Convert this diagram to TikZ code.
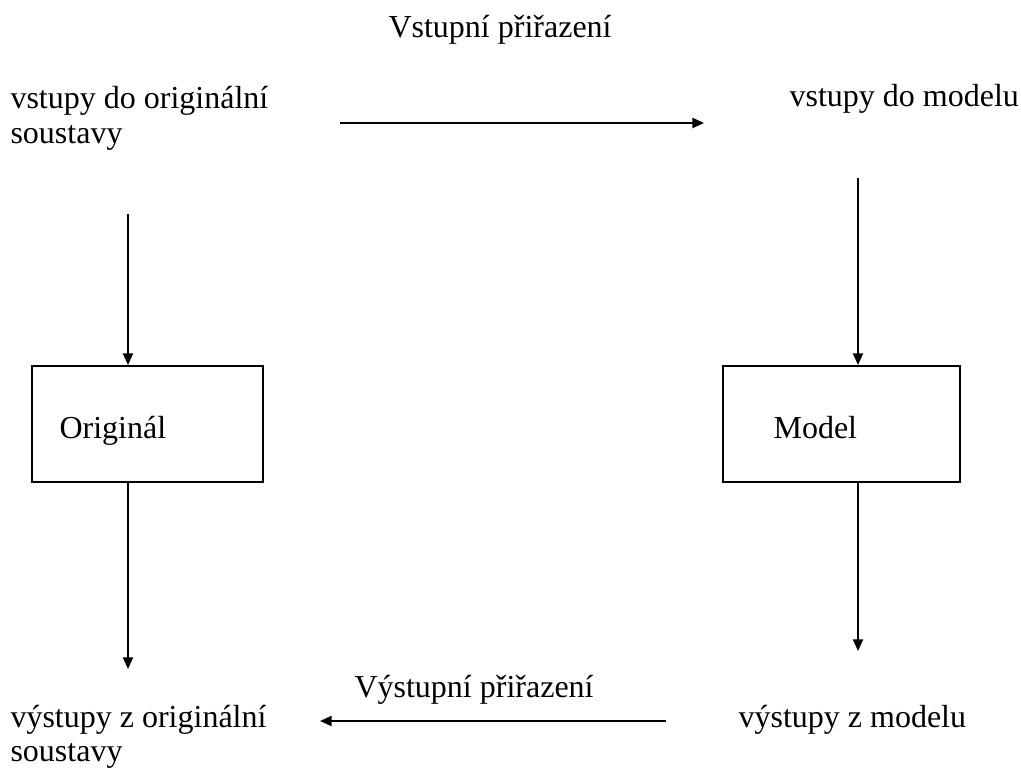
\documentclass[tikz,border=0pt]{standalone}
\usepackage{fontspec}
\setmainfont{Liberation Serif}
\usetikzlibrary{arrows.meta}
\begin{document}
\begin{tikzpicture}[x=0.375pt,y=-0.375pt,
  lbl/.style={inner sep=0pt,anchor=base west,font=\fontsize{12}{12.9}\selectfont},
  blk/.style={draw,line width=0.75pt,inner sep=0pt},
  conn/.style={line width=0.75pt,-{Triangle[length=4.4pt,width=3.8pt]}}]
\useasboundingbox (0,0) rectangle (1021,773);
\node[lbl] (t1) at (388,38) {Vstupní přiřazení};
\node[lbl] (inO) at (10,109) {\begin{tabular}[t]{@{}l@{}}vstupy do originální\\soustavy\end{tabular}};
\node[lbl] (inM) at (789,107) {vstupy do modelu};
\node[blk,minimum width=231*0.375pt,minimum height=116*0.375pt] (orig) at (147.5,424) {};
\node[lbl] (origT) at (59,438) {Originál};
\node[blk,minimum width=237*0.375pt,minimum height=116*0.375pt] (model) at (841.5,424) {};
\node[lbl] (modelT) at (773,438) {Model};
\node[lbl] (t2) at (354,697) {Výstupní přiřazení};
\node[lbl] (outO) at (10,727) {\begin{tabular}[t]{@{}l@{}}výstupy z originální\\soustavy\end{tabular}};
\node[lbl] (outM) at (738,727) {výstupy z modelu};
\coordinate (a1s) at (340,123);
\coordinate (a1e) at (704,123);
\coordinate (l1s) at (128,214);
\coordinate (l2e) at (128,669);
\coordinate (r1s) at (858,178);
\coordinate (r2e) at (858,651);
\coordinate (b1s) at (666,721);
\coordinate (b1e) at (320,721);
\draw[conn] (a1s) -- (a1e);
\draw[conn] (l1s) -- (l1s |- orig.north);
\draw[conn] (l1s |- orig.south) -- (l2e);
\draw[conn] (r1s) -- (r1s |- model.north);
\draw[conn] (r1s |- model.south) -- (r2e);
\draw[conn] (b1s) -- (b1e);
\end{tikzpicture}
\end{document}
